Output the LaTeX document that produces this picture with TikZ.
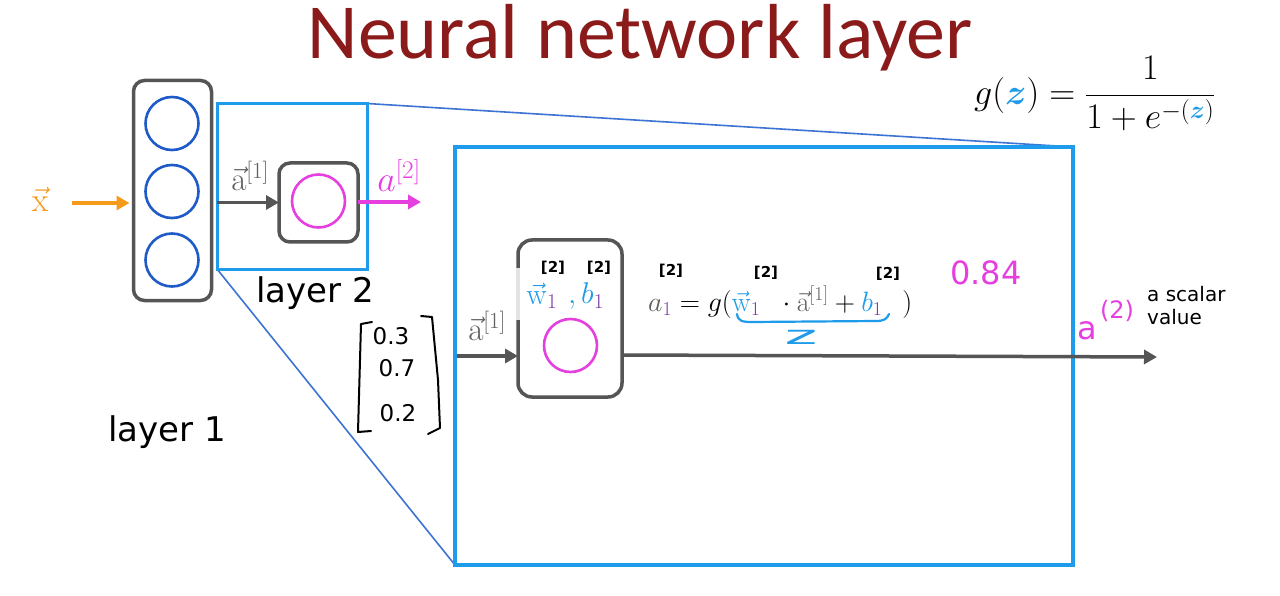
\RequirePackage{fix-cm}
\documentclass[tikz,border=0pt]{standalone}
\usepackage[no-math]{fontspec}
\setmainfont{DejaVu Sans}
\newfontfamily\titlefont{Carlito}
\usepackage{amsmath}
\usepackage{graphicx}
\usetikzlibrary{arrows.meta}
\definecolor{tred}{HTML}{8B1A1A}
\definecolor{nblue}{HTML}{1F5BC8}
\definecolor{lblue}{HTML}{1E9BEA}
\definecolor{zblue}{HTML}{3D74D4}
\definecolor{dgray}{HTML}{555555}
\definecolor{txtgray}{HTML}{606060}
\definecolor{mag}{HTML}{E63FE0}
\definecolor{org}{HTML}{F59A1B}
\definecolor{purp}{HTML}{7A35A8}
\tikzset{
  box/.style={draw=dgray, line width=3.5pt, rounded corners=11pt, outer sep=0pt, inner sep=0pt},
  neuron/.style={circle, draw=nblue, line width=2.6pt, minimum size=53pt, inner sep=0pt, outer sep=0pt},
  mneuron/.style={circle, draw=mag, line width=2.6pt, minimum size=53pt, inner sep=0pt, outer sep=0pt},
  frame/.style={draw=lblue, outer sep=0pt, inner sep=0pt},
  tip/.style={-{Triangle[length=13pt,width=14pt]}},
  garrow/.style={draw=dgray, line width=3.5pt, tip},
  zoomline/.style={draw=zblue, line width=1.6pt},
  hw/.style={font=\fontsize{15}{15}\selectfont\bfseries, text=black, inner sep=0pt},
  handline/.style={draw=black, line width=2pt, line cap=round, line join=round},
}
\begin{document}
\begin{tikzpicture}[x=1pt,y=-1pt]
\fill[white] (0,0) rectangle (1280,596);
\useasboundingbox (0,0) rectangle (1280,596);
% title
\node[font=\titlefont\fontsize{78}{86}\selectfont, text=tred] (title) at (640,38) {Neural network layer};
% zoom lines
\coordinate (L2ne) at (367,103.5);
\coordinate (L2sw) at (217,269);
\coordinate (Bne) at (1073,147);
\coordinate (Bsw) at (455,565);
\draw[zoomline] (L2ne) -- (Bne);
\draw[zoomline] (L2sw) -- (Bsw);
% layer 1
\node[box, minimum width=78pt, minimum height=220pt] (L1) at (172.5,190.5) {};
\node[neuron] (c1) at (172,123.5) {};
\node[neuron] (c2) at (172,191.5) {};
\node[neuron] (c3) at (172,260) {};
\node[font=\fontsize{34}{36}\selectfont] (l1lab) at (167,432) {layer 1};
% input x
\node[text=org, inner sep=0pt] (x) at (40,199) {\fontsize{34}{36}\selectfont$\vec{\mathrm{x}}$};
\coordinate (xs) at (72,203);
\draw[line width=3.5pt, org, tip, shorten >=4pt] (xs) -- (L1.west |- xs);
% layer 2 small
\node[frame, line width=3pt, minimum width=150pt, minimum height=165.5pt] (L2) at (292,186.25) {};
\node[box, minimum width=79pt, minimum height=79pt] (n2) at (318.5,202.5) {};
\node[mneuron] (m2) at (318.5,201) {};
\draw[garrow] (L2.west |- n2) -- (n2.west);
\coordinate (a2end) at (421,202);
\draw[mag, line width=3.5pt, tip] (n2.east |- a2end) -- (a2end);
\node[text=txtgray, inner sep=0pt] (a1lab) at (250,176) {\fontsize{33}{36}\selectfont$\vec{\mathrm{a}}^{[1]}$};
\node[text=mag, inner sep=0pt] (a2lab) at (399,176) {\fontsize{36}{38}\selectfont$a^{[2]}$};
\node[font=\fontsize{34}{36}\selectfont] (l2lab) at (315,293) {layer 2};
% big frame
\node[frame, line width=4.5pt, minimum width=618pt, minimum height=418pt] (B) at (764,356) {};
% big neuron
\node[box, minimum width=104pt, minimum height=157pt, rounded corners=14pt] (n3) at (570,318.5) {};
\draw[line width=3.6pt, gray!22] (518,268) -- (518,320);
\node[mneuron] (m3) at (570.5,345.5) {};
\coordinate (in3) at (457,356);
\draw[garrow] (in3) -- (n3.west |- in3);
\node[text=txtgray, inner sep=0pt] (a1lab2) at (487,326) {\fontsize{33}{36}\selectfont$\vec{\mathrm{a}}^{[1]}$};
\coordinate (outend) at (1157,357);
\draw[garrow] (n3.east |- 0,355) -- (outend);
% parameters
\node[inner sep=0pt] (wlab) at (542,296) {\fontsize{30}{32}\selectfont$\textcolor{lblue}{\vec{\mathrm{w}}}_{\textcolor{purp}{1}}$};
\node[inner sep=0pt] (blab) at (586,296) {\fontsize{30}{32}\selectfont$\textcolor{lblue}{,b}_{\textcolor{purp}{1}}$};
\node[hw] (h1) at (553,268) {[2]};
\node[hw] (h2) at (599,268) {[2]};
% equation
\node[anchor=base west, inner sep=0pt] (eq) at (648,311) {\fontsize{28}{32}\selectfont$\textcolor{txtgray}{a}_{\textcolor{purp}{1}}=g(\textcolor{lblue}{\vec{\mathrm{w}}}_{\textcolor{purp}{1}}\hspace{16pt}\cdot\textcolor{txtgray}{\vec{\mathrm{a}}^{[1]}}+\textcolor{lblue}{b}_{\textcolor{purp}{1}}\hspace{20pt})$};
\node[hw] (h3) at (671,271) {[2]};
\node[hw] (h4) at (766,273) {[2]};
\node[hw] (h5) at (888,274) {[2]};
\draw[lblue, line width=2.2pt, line cap=round] (737,314) .. controls (738,321) and (742,322) .. (752,322) -- (876,321) .. controls (884,321) and (887,319) .. (889,314);
\node[text=lblue, font=\fontsize{26}{30}\selectfont, inner sep=0pt] (zlab) at (801,337) {\scalebox{2.4}[1]{z}};
% value
\node[text=mag, font=\fontsize{32}{34}\selectfont, inner sep=0pt] (val) at (986,273) {0.84};
\node[text=mag, font=\fontsize{32}{34}\selectfont, inner sep=0pt, anchor=base] (abig) at (1087,339) {a};
\node[text=mag, font=\fontsize{24}{26}\selectfont, inner sep=0pt] (asup) at (1117,311) {(2)};
\node[align=left, font=\fontsize{20}{23}\selectfont, anchor=north west, inner sep=0pt] (sc) at (1147,286) {a scalar\\value};
% matrix
\node[font=\fontsize{23}{24}\selectfont, inner sep=0pt] (v1) at (391,336) {0.3};
\node[font=\fontsize{23}{24}\selectfont, inner sep=0pt] (v2) at (397,368) {0.7};
\node[font=\fontsize{23}{24}\selectfont, inner sep=0pt] (v3) at (398,413) {0.2};
\draw[handline] (372,322) -- (361,324) -- (358,432) -- (371,431);
\draw[handline] (421,316) -- (432,317) -- (438,380) -- (440,428) -- (428,434);
% sigmoid
\node[anchor=west, inner sep=0pt] (gz) at (974,94) {\fontsize{36}{40}\selectfont$\displaystyle g(\textcolor{lblue}{\boldsymbol{z}})=\frac{1}{1+e^{-(\textcolor{lblue}{\boldsymbol{z}})}}$};
\end{tikzpicture}
\end{document}
